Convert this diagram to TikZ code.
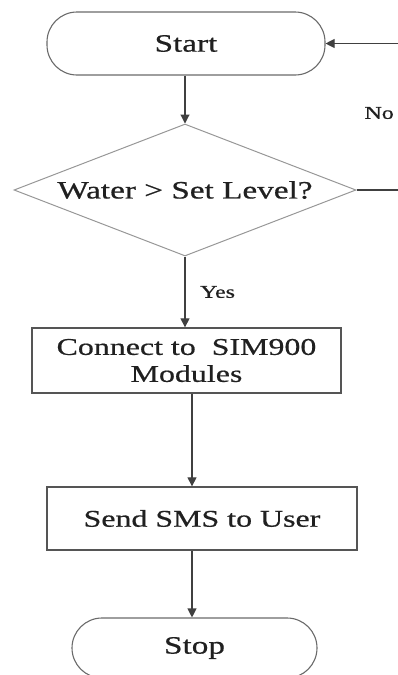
\documentclass[tikz,border=0pt]{standalone}
\usepackage{fontspec}
\usetikzlibrary{shapes.geometric,arrows.meta,calc}
\newfontfamily\flfont[FakeStretch=1.33,FakeBold=0.6]{Liberation Serif}
\definecolor{linec}{HTML}{404040}
\definecolor{shapec}{HTML}{6A6A6A}
\definecolor{textc}{HTML}{202020}
\begin{document}
\begin{tikzpicture}[x=1pt,y=-1pt,
  every node/.style={text=textc},
  term/.style={draw=shapec,line width=1.1pt,rectangle,rounded corners=30pt,inner sep=0pt,
    font=\flfont\fontsize{25}{28}\selectfont},
  procbox/.style={draw=shapec!80!black,line width=1.3pt,rectangle,inner sep=0pt,align=center,
    font=\flfont\fontsize{24}{27}\selectfont},
  decbox/.style={draw=shapec!70,line width=1pt,diamond,aspect=2.6,inner sep=0pt,
    minimum width=342pt,minimum height=132pt,font=\flfont\fontsize{25}{28}\selectfont},
  lbl/.style={font=\flfont\fontsize{18}{20}\selectfont,inner sep=0pt},
  arr/.style={draw=linec,line width=1.1pt,-{Triangle[width=9pt,length=9pt]}},
  ln/.style={draw=linec,line width=1.1pt}]
\useasboundingbox (0,0) rectangle (398,675);
\clip (0,0) rectangle (398,675);
\node[term,minimum width=278pt,minimum height=63pt] (start) at (186,43.5) {Start};
\node[decbox] (dec) at (185,190) {Water > Set Level?};
\node[procbox,minimum width=309pt,minimum height=65pt] (box1) at (186.5,360.5) {Connect to~~SIM900\\Modules};
\node[procbox,minimum width=310pt,minimum height=63pt] (box2) at (202,518.5) {Send SMS to User};
\node[term,minimum width=245pt,minimum height=60pt] (stop) at (194.5,648) {Stop};
\node[lbl,anchor=west] (yes) at (200,292) {Yes};
\node[lbl,anchor=east] (no) at (394,113) {No};
\coordinate (colA) at (185,0);
\coordinate (colB) at (192,0);
\coordinate (loopx) at (410,0);
\draw[arr] (start.south -| colA) -- (dec.north);
\draw[arr] (dec.south) -- (box1.north -| colA);
\draw[arr] (box1.south -| colB) -- (box2.north -| colB);
\draw[arr] (box2.south -| colB) -- (stop.north -| colB);
\draw[arr] (dec.east) -- (dec.east -| loopx) -- (start.east -| loopx) -- (start.east);
\end{tikzpicture}
\end{document}
